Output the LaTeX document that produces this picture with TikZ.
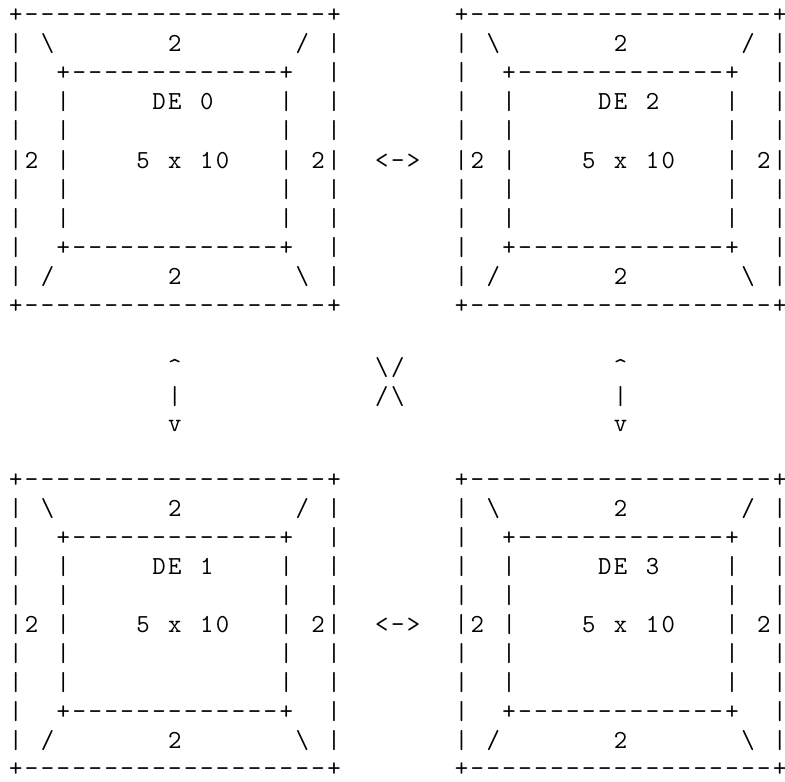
\documentclass[tikz,border=0pt]{standalone}
\ExplSyntaxOn
\dim_new:N \g_ascii_cw_dim
\dim_gset:Nn \g_ascii_cw_dim { 15.92pt }
\NewDocumentCommand \asciirow { m }
  {
    \str_map_inline:nn { #1 }
      {
        \str_if_eq:nnTF { ##1 } { . }
          { \hbox_to_wd:nn { \g_ascii_cw_dim } { } }
          { \hbox_to_wd:nn { \g_ascii_cw_dim } { \hss ##1 \hss } }
      }
  }
\ExplSyntaxOff
\tikzset{
  arow/.style={inner sep=0pt, outer sep=0pt, anchor=base west,
    font=\ttfamily\fontsize{26}{29}\selectfont, text=black}
}
\begin{document}
\begin{tikzpicture}
\fill[white] (0,0) rectangle (785pt,-782pt);
\useasboundingbox (0,0) rectangle (785pt,-782pt);
% upper pair of boxes
\node[arow] (r0)  at (7.74pt,-22pt)  {\asciirow{+-------------------+.......+-------------------+}};
\node[arow] (r1)  at (7.74pt,-51pt)  {\asciirow{|.\.......2......./.|.......|.\.......2......./.|}};
\node[arow] (r2)  at (7.74pt,-80pt)  {\asciirow{|..+-------------+..|.......|..+-------------+..|}};
\node[arow] (r3)  at (7.74pt,-109pt) {\asciirow{|..|.....DE.0....|..|.......|..|.....DE.2....|..|}};
\node[arow] (r4)  at (7.74pt,-138pt) {\asciirow{|..|.............|..|.......|..|.............|..|}};
\node[arow] (r5)  at (7.74pt,-168pt) {\asciirow{|2.|....5.x.10...|.2|..<->..|2.|....5.x.10...|.2|}};
\node[arow] (r6)  at (7.74pt,-197pt) {\asciirow{|..|.............|..|.......|..|.............|..|}};
\node[arow] (r7)  at (7.74pt,-226pt) {\asciirow{|..|.............|..|.......|..|.............|..|}};
\node[arow] (r8)  at (7.74pt,-255pt) {\asciirow{|..+-------------+..|.......|..+-------------+..|}};
\node[arow] (r9)  at (7.74pt,-284pt) {\asciirow{|./.......2.......\.|.......|./.......2.......\.|}};
\node[arow] (r10) at (7.74pt,-313pt) {\asciirow{+-------------------+.......+-------------------+}};
% arrows between boxes
\node[arow] (r12) at (7.74pt,-375pt) {\asciirow{..........^............\/.............^}};
\node[arow] (r13) at (7.74pt,-404pt) {\asciirow{..........|............/\.............|}};
\node[arow] (r14) at (7.74pt,-431pt) {\asciirow{..........v...........................v}};
% lower pair of boxes
\node[arow] (r16) at (7.74pt,-487pt) {\asciirow{+-------------------+.......+-------------------+}};
\node[arow] (r17) at (7.74pt,-516pt) {\asciirow{|.\.......2......./.|.......|.\.......2......./.|}};
\node[arow] (r18) at (7.74pt,-545pt) {\asciirow{|..+-------------+..|.......|..+-------------+..|}};
\node[arow] (r19) at (7.74pt,-574pt) {\asciirow{|..|.....DE.1....|..|.......|..|.....DE.3....|..|}};
\node[arow] (r20) at (7.74pt,-603pt) {\asciirow{|..|.............|..|.......|..|.............|..|}};
\node[arow] (r21) at (7.74pt,-632pt) {\asciirow{|2.|....5.x.10...|.2|..<->..|2.|....5.x.10...|.2|}};
\node[arow] (r22) at (7.74pt,-661pt) {\asciirow{|..|.............|..|.......|..|.............|..|}};
\node[arow] (r23) at (7.74pt,-690pt) {\asciirow{|..|.............|..|.......|..|.............|..|}};
\node[arow] (r24) at (7.74pt,-719pt) {\asciirow{|..+-------------+..|.......|..+-------------+..|}};
\node[arow] (r25) at (7.74pt,-748pt) {\asciirow{|./.......2.......\.|.......|./.......2.......\.|}};
\node[arow] (r26) at (7.74pt,-776pt) {\asciirow{+-------------------+.......+-------------------+}};
\end{tikzpicture}
\end{document}
